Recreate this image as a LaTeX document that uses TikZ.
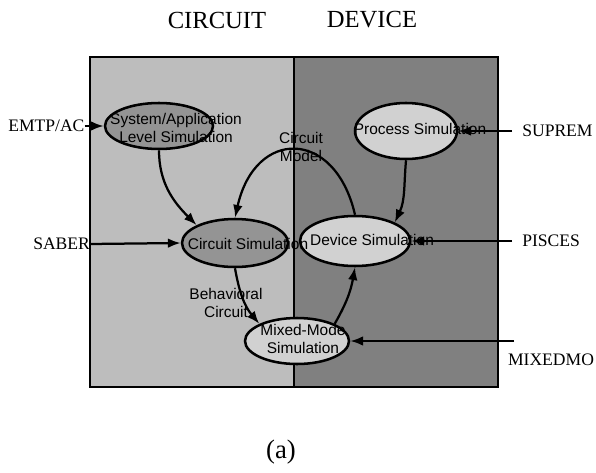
\documentclass[tikz,border=0pt]{standalone}
\usepackage{fontspec}
\setmainfont{Liberation Serif}
\newfontfamily\arialfont{Liberation Sans}
\usetikzlibrary{shapes.geometric,arrows.meta}
\definecolor{circuitbg}{gray}{0.74}
\definecolor{devicebg}{gray}{0.50}
\definecolor{darksim}{gray}{0.58}
\definecolor{lightsim}{gray}{0.82}

\begin{document}
\begin{tikzpicture}[x=0.25mm,y=-0.25mm]
        \tikzstyle{every node}+=[inner sep=0pt]
        \tikzstyle{sim}=[ellipse, draw=black, line width=1.8pt]
        \tikzstyle{simtext}=[font=\arialfont\fontsize{11}{12.5}\selectfont, align=center]
        \tikzstyle{tool}=[font=\fontsize{12.5}{14}\selectfont]
        \tikzstyle{side}=[font=\fontsize{17.5}{20}\selectfont]
        \tikzstyle{flow}=[line width=1.6pt, -{Latex[length=3.2mm,width=2.4mm]}]
        \useasboundingbox (0,0) rectangle (596,472);
        \fill [circuitbg] (90,57) rectangle (294,387);
        \fill [devicebg] (294,57) rectangle (498,386);
        \draw [black, line width=0.8pt] (90,57) rectangle (498,387);
        \draw [black, line width=1.8pt] (294,57) -- (294,387);
        \node [side] (circuit) at (217,20) {CIRCUIT};
        \node [side] (device) at (372,20) {DEVICE};
        \node [side, font=\fontsize{19}{22}\selectfont] (caption) at (281,452) {(a)};
        \node [sim, fill=darksim, minimum width=27mm, minimum height=11.5mm] (sys) at (159,126) {};
        \node [sim, fill=lightsim, minimum width=25.5mm, minimum height=14mm] (proc) at (406,131) {};
        \node [sim, fill=darksim, minimum width=26.5mm, minimum height=12mm] (cs) at (235,243) {};
        \node [sim, fill=lightsim, minimum width=27.5mm, minimum height=12.5mm] (dev) at (355,241) {};
        \node [sim, fill=lightsim, minimum width=26mm, minimum height=11.5mm] (mix) at (297,341) {};
        \draw [flow] (sys.south) to[out=-90,in=135] (cs.north west);
        \draw [flow] (dev.north) .. controls (335,128) and (255,128) .. (cs.north);
        \draw [flow] (proc.south) to[out=-95,in=65] (dev.north east);
        \draw [flow] (cs.south) to[out=-80,in=130] (mix.north west);
        \draw [flow] (mix.north east) to[out=60,in=-100] (dev.south);
        \node [simtext] (systext) at (176,128) {System/Application\\Level Simulation};
        \node [simtext] (proctext) at (420,129) {Process Simulation};
        \node [simtext] (cstext) at (248,244) {Circuit Simulation};
        \node [simtext] (devtext) at (372,240) {Device Simulation};
        \node [simtext] (mixtext) at (303,339) {Mixed-Mode\\Simulation};
        \node [simtext] (model) at (301,147) {Circuit\\Model};
        \node [simtext] (behav) at (226,303) {Behavioral\\Circuit};
        \node [tool, anchor=west] (emtp) at (8,126) {EMTP/AC};
        \node [tool, anchor=west] (saber) at (33,244) {SABER};
        \node [tool, anchor=west] (suprem) at (522,131) {SUPREM};
        \node [tool, anchor=west] (pisces) at (522,241) {PISCES};
        \node [tool] (mixedmo) at (551,360) {MIXEDMO};
        \coordinate (mixin) at (514,341);
        \draw [flow] (emtp.east) -- (sys.west);
        \draw [flow] (saber.east) -- (cs.west);
        \draw [flow] ([xshift=-2.5mm]suprem.west) -- (proc.east);
        \draw [flow] ([xshift=-2.5mm]pisces.west) -- (dev.east);
        \draw [flow] (mixin) -- (mix.east);
\end{tikzpicture}
\end{document}
